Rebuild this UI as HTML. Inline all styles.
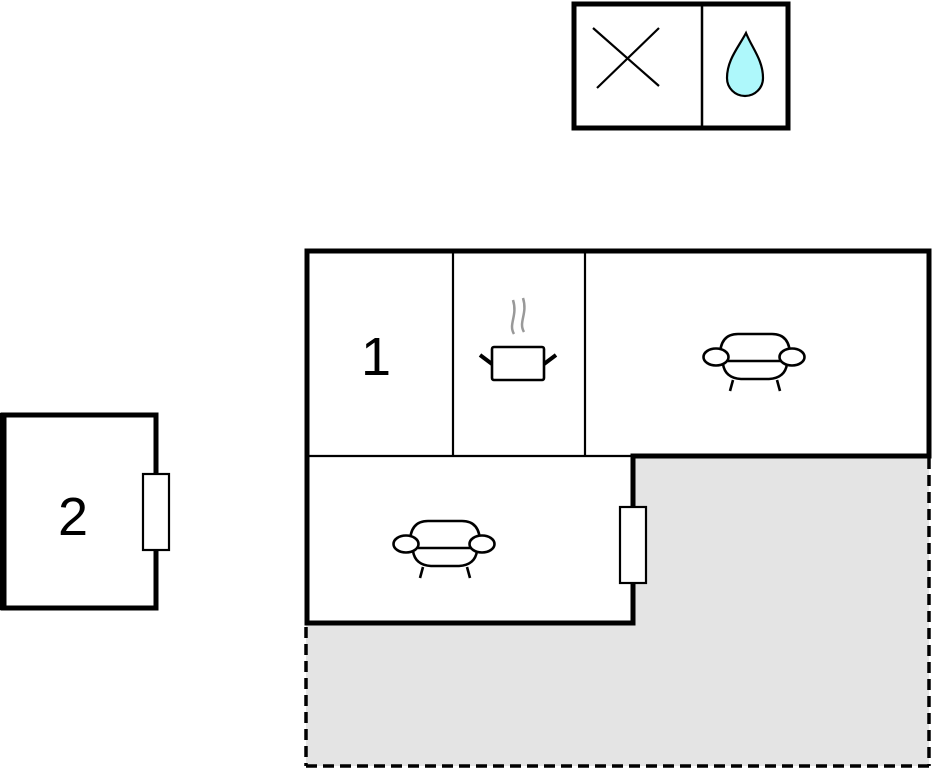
<!DOCTYPE html>
<html><head><style>html,body{margin:0;padding:0;background:#fff;}svg{display:block}</style></head>
<body>
<svg width="932" height="768" viewBox="0 0 932 768" xmlns="http://www.w3.org/2000/svg">
<defs>
<g id="sofa" fill="none" stroke="#000" stroke-width="2.6">
  <path d="M17,22 Q17,0 35,0 L69,0 Q87,0 87,22"/>
  <path d="M20,30 Q22,44 38,45 L66,45 Q82,44 84,30"/>
  <line x1="25" y1="27" x2="79" y2="27"/>
  <ellipse cx="13" cy="23" rx="12.5" ry="8.5" fill="#fff"/>
  <ellipse cx="89" cy="23" rx="12.5" ry="8.5" fill="#fff"/>
  <line x1="30" y1="46" x2="27" y2="57"/>
  <line x1="74" y1="46" x2="77" y2="57"/>
</g>
</defs>
<path d="M633,456 L929,456 L929,766 L306,766 L306,625 L633,625 Z" fill="#e4e4e4"/>
<line x1="929" y1="458" x2="929" y2="766" stroke="#000" stroke-width="3.5" stroke-dasharray="11,6"/>
<line x1="306" y1="627" x2="306" y2="766" stroke="#000" stroke-width="3.5" stroke-dasharray="11,6"/>
<line x1="306" y1="766" x2="929" y2="766" stroke="#000" stroke-width="3.5" stroke-dasharray="11,6"/>
<rect x="574" y="4" width="214" height="124" fill="#fff" stroke="#000" stroke-width="5"/>
<line x1="702" y1="4" x2="702" y2="128" stroke="#000" stroke-width="2.5"/>
<line x1="593" y1="28" x2="659" y2="86" stroke="#000" stroke-width="2.2"/>
<line x1="659" y1="28" x2="597" y2="88" stroke="#000" stroke-width="2.2"/>
<path d="M746,33 C738,48 727,60 727,78 C727,88 735,96 745,96 C755,96 763,88 763,78 C763,60 752,48 746,33 Z" fill="#aef8fb" stroke="#000" stroke-width="2.2"/>
<path d="M307,251 L929,251 L929,456 L633,456 L633,623 L307,623 Z" fill="#fff" stroke="#000" stroke-width="5"/>
<line x1="307" y1="456" x2="633" y2="456" stroke="#000" stroke-width="2.2"/>
<line x1="453" y1="251" x2="453" y2="456" stroke="#000" stroke-width="2.2"/>
<line x1="585" y1="251" x2="585" y2="456" stroke="#000" stroke-width="2.2"/>
<line x1="633" y1="456" x2="929" y2="456" stroke="#000" stroke-width="5"/>
<rect x="620" y="507" width="26" height="76" fill="#fff" stroke="#000" stroke-width="2.2"/>
<text x="376" y="375" font-family="Liberation Sans, sans-serif" font-size="54" text-anchor="middle">1</text>
<path d="M514,334 C508,324 518,316 513,300" fill="none" stroke="#999" stroke-width="2.5"/>
<path d="M524,332 C518,322 528,314 523,298" fill="none" stroke="#999" stroke-width="2.5"/>
<rect x="492" y="347" width="52" height="33" rx="2" fill="#fff" stroke="#000" stroke-width="2.6"/>
<line x1="480" y1="355" x2="492" y2="364" stroke="#000" stroke-width="4"/>
<line x1="556" y1="355" x2="544" y2="364" stroke="#000" stroke-width="4"/>
<use href="#sofa" x="703" y="334"/>
<use href="#sofa" x="393" y="521"/>
<path d="M3,415 L156,415 L156,608 L3,608 Z" fill="#fff" stroke="#000" stroke-width="5"/>
<line x1="3" y1="413" x2="3" y2="610" stroke="#000" stroke-width="7"/>
<rect x="143" y="474" width="26" height="76" fill="#fff" stroke="#000" stroke-width="2.2"/>
<text x="73" y="535" font-family="Liberation Sans, sans-serif" font-size="54" text-anchor="middle">2</text>
</svg>
</body></html>
